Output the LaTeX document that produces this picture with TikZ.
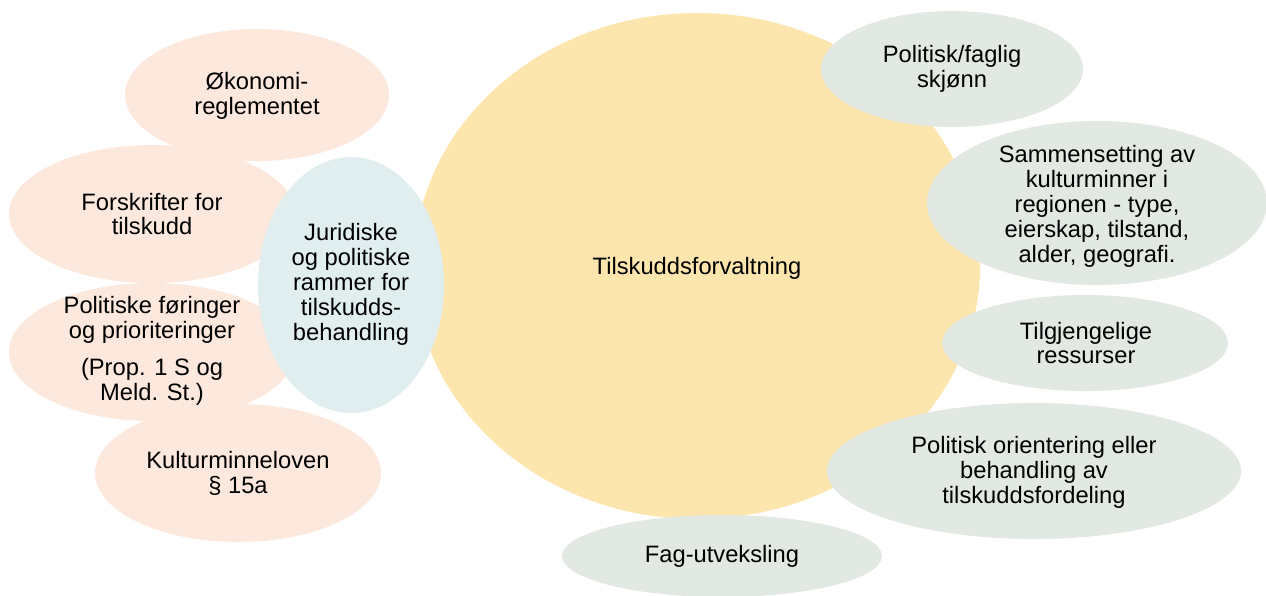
\documentclass[tikz,border=0pt]{standalone}
\usepackage{fontspec}
\setmainfont{Liberation Sans}
\usepackage{tikz}

\definecolor{peach}{HTML}{FCE8DC}
\definecolor{paleblue}{HTML}{E0EEF0}
\definecolor{sunyellow}{HTML}{FDE5AE}
\definecolor{sage}{HTML}{E2E8E2}

\begin{document}
\begin{tikzpicture}[x=0.02cm, y=-0.02cm,
    label text/.style={align=center, inner sep=0pt, text=black,
        font=\fontsize{13.5}{14.2}\selectfont}]
                \useasboundingbox (0,0) rectangle (1266,595);

                % Central bubble
                \fill[sunyellow] (697,266) ellipse [x radius=283, y radius=253];
                \node[label text] (forvaltning) at (697,268) {Tilskuddsforvaltning};

                % Legal and political frame (left)
                \fill[peach] (257,95) ellipse [x radius=132, y radius=66];
                \fill[peach] (152,214) ellipse [x radius=143, y radius=69];
                \fill[peach] (152,352) ellipse [x radius=143, y radius=69];
                \fill[peach] (238,473) ellipse [x radius=143, y radius=69];
                \node[label text] (okonomi) at (257,96) {Økonomi-\\reglementet};
                \node[label text] (forskrifter) at (152,214) {Forskrifter for\\tilskudd};
                \node[label text] (foringer) at (152,351) {Politiske føringer\\og prioriteringer\\[7pt](Prop. 1 S og\\Meld. St.)};
                \node[label text] (loven) at (238,473) {Kulturminneloven\\§ 15a};

                \fill[paleblue] (351,285) ellipse [x radius=93, y radius=128];
                \node[label text] (rammer) at (351,284) {Juridiske\\og politiske\\rammer for\\tilskudds-\\behandling};

                % Other factors (right and below)
                \fill[sage] (952,69) ellipse [x radius=131, y radius=58];
                \node[label text] (skjonn) at (952,69) {Politisk/faglig\\skjønn};

                \fill[sage] (1097,203) ellipse [x radius=170, y radius=82];
                \node[label text] (sammensetting) at (1097,206) {Sammensetting av\\kulturminner i\\regionen - type,\\eierskap, tilstand,\\alder, geografi.};

                \fill[sage] (1085,343) ellipse [x radius=143, y radius=48];
                \node[label text] (ressurser) at (1086,343) {Tilgjengelige\\ressurser};

                \fill[sage] (1034,471) ellipse [x radius=207, y radius=68];
                \node[label text] (orientering) at (1034,472) {Politisk orientering eller\\behandling av\\tilskuddsfordeling};

                \fill[sage] (722,556) ellipse [x radius=160, y radius=41];
                \node[label text] (utveksling) at (722,556) {Fag-utveksling};
\end{tikzpicture}
\end{document}
